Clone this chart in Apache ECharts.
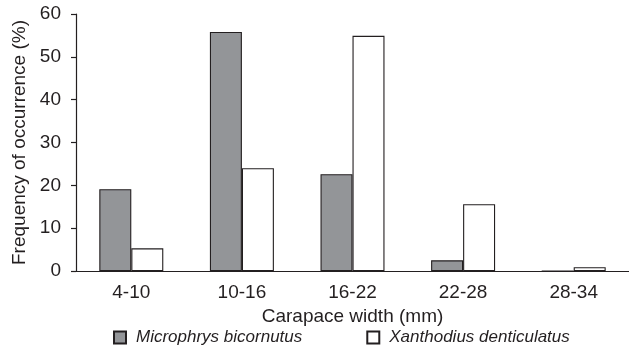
<!DOCTYPE html>
<html>
<head>
<meta charset="utf-8">
<script src="https://cdn.jsdelivr.net/npm/echarts@6/dist/echarts.min.js"></script>
<style>html,body{margin:0;padding:0;background:#fff;}#c{width:629px;height:350px;}</style>
</head>
<body>
<div id="c"></div>
<script>
var categories = ['4-10', '10-16', '16-22', '22-28', '28-34'];
var microphrys = [19.1, 55.8, 22.6, 2.5, 0];
var xanthodius = [5.3, 24.0, 54.9, 15.6, 0.9];
var yTicks = [0, 10, 20, 30, 40, 50, 60];
var seriesNames = ['Microphrys bicornutus', 'Xanthodius denticulatus'];

var txt = '#231f20';
var font = 'Liberation Sans, Arial, sans-serif';
var chart = echarts.init(document.getElementById('c'), null, {renderer: 'canvas'});
chart.setOption({
  animation: false,
  backgroundColor: '#fff',
  textStyle: {fontFamily: font, color: txt},
  grid: {left: 76, top: 14, width: 555, height: 257, containLabel: false},
  legend: {
    left: 113, top: 329, padding: 0,
    itemWidth: 12, itemHeight: 12, itemGap: 64,
    icon: 'rect',
    textStyle: {fontFamily: font, fontStyle: 'italic', fontSize: 17, color: txt, padding: [0, 0, 0, 5]},
    data: seriesNames
  },
  xAxis: {
    type: 'category',
    data: categories,
    axisLine: {lineStyle: {color: '#231f20', width: 1.2}},
    axisTick: {show: false},
    axisLabel: {fontSize: 19, color: txt, margin: 12, fontFamily: font},
    name: 'Carapace width (mm)',
    nameLocation: 'middle',
    nameGap: 29,
    nameTextStyle: {fontSize: 19, color: txt, fontFamily: font}
  },
  yAxis: {
    type: 'value',
    min: yTicks[0], max: yTicks[yTicks.length - 1], interval: 10,
    axisLine: {show: true, lineStyle: {color: '#231f20', width: 1.2}},
    axisTick: {show: true, length: 5, lineStyle: {color: '#231f20', width: 1.2}},
    splitLine: {show: false},
    axisLabel: {fontSize: 19, color: txt, margin: 15, fontFamily: font},
    name: 'Frequency of occurrence (%)',
    nameLocation: 'middle',
    nameGap: 43,
    nameTextStyle: {fontSize: 19, color: txt, fontFamily: font}
  },
  series: [
    {
      name: seriesNames[0], type: 'bar', data: microphrys,
      barWidth: 32, barGap: '0%',
      itemStyle: {color: '#939598', borderColor: '#231f20', borderWidth: 1.1}
    },
    {
      name: seriesNames[1], type: 'bar', data: xanthodius,
      barWidth: 32, barGap: '0%',
      itemStyle: {color: '#ffffff', borderColor: '#231f20', borderWidth: 1.1}
    }
  ]
});
</script>
</body>
</html>
